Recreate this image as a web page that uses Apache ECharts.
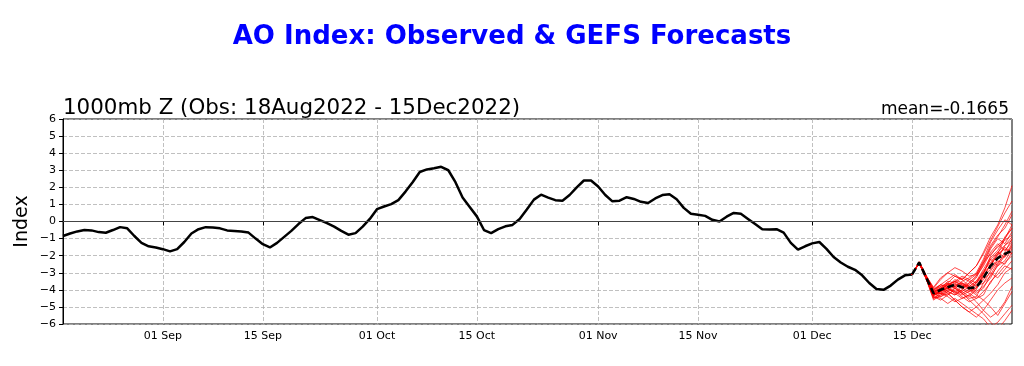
<!DOCTYPE html>
<html>
<head>
<meta charset="utf-8">
<script src="https://cdn.jsdelivr.net/npm/echarts@6/dist/echarts.min.js"></script>
<style>
html,body{margin:0;padding:0;background:#fff;}
#chart{width:1024px;height:366px;}
</style>
</head>
<body>
<div id="chart"></div>
<script>
// ---------- DATA ----------
const startDateUTC = [2022, 7, 18];   // 18 Aug 2022 (first day on the axis)
const dayCount = 134;                  // 18 Aug .. 29 Dec 2022
const monthNames = ['Jan','Feb','Mar','Apr','May','Jun','Jul','Aug','Sep','Oct','Nov','Dec'];

// Observed AO index, daily, 18 Aug .. 15 Dec 2022
const observed = [
  -0.85,-0.70,-0.58,-0.50,-0.52,-0.62,-0.66,-0.50,-0.33,-0.40,
  -0.85,-1.25,-1.45,-1.52,-1.62,-1.75,-1.62,-1.20,-0.70,-0.45,
  -0.33,-0.35,-0.40,-0.52,-0.55,-0.58,-0.65,-1.00,-1.33,-1.52,
  -1.25,-0.90,-0.55,-0.15, 0.20, 0.26, 0.08,-0.10,-0.30,-0.55,
  -0.77,-0.68,-0.30, 0.15, 0.72, 0.88, 1.02, 1.25, 1.75, 2.30,
   2.90, 3.05, 3.12, 3.20, 3.00, 2.30, 1.40, 0.85, 0.30,-0.50,
  -0.68,-0.45,-0.28,-0.20, 0.15, 0.70, 1.28, 1.57, 1.40, 1.25,
   1.22, 1.55, 2.00, 2.40, 2.40, 2.05, 1.55, 1.18, 1.22, 1.42,
   1.32, 1.15, 1.08, 1.35, 1.55, 1.60, 1.30, 0.80, 0.45, 0.40,
   0.33, 0.10, 0.00, 0.28, 0.50, 0.45, 0.15,-0.15,-0.45,-0.47,
  -0.45,-0.65,-1.25,-1.65,-1.45,-1.28,-1.20,-1.60,-2.08,-2.40,
  -2.65,-2.83,-3.15,-3.60,-3.95,-4.00,-3.75,-3.40,-3.15,-3.10
];

// Forecasts start on the last observed day (15 Dec) and run to 29 Dec
const forecastStartIndex = 119;

const ensembleMean = [-3.1,-2.4,-3.3,-4.2,-4.0,-3.85,-3.7,-3.85,-3.9,-3.85,-3.3,-2.6,-2.15,-1.9,-1.7];

const ensembleMembers = [
  [-3.1,-2.35,-3.30,-4.30,-4.1,-3.6,-3.2,-3.4,-3.0,-2.6,-1.8,-0.9,-0.2, 0.8, 2.1],
  [-3.1,-2.45,-3.40,-4.50,-4.4,-4.2,-4.6,-5.0,-5.3,-5.6,-5.2,-4.6,-4.0,-3.6,-3.3],
  [-3.1,-2.40,-3.20,-3.90,-3.4,-3.0,-2.7,-2.9,-3.2,-3.1,-2.4,-1.5,-0.9,-0.2, 0.6],
  [-3.1,-2.40,-3.35,-4.40,-4.5,-4.8,-4.5,-4.8,-5.1,-5.4,-5.7,-6.2,-5.9,-5.4,-4.9],
  [-3.1,-2.38,-3.25,-4.10,-3.9,-3.5,-3.6,-3.9,-3.7,-3.3,-2.5,-1.6,-1.0,-1.3,-0.6],
  [-3.1,-2.42,-3.30,-4.20,-4.2,-4.0,-3.8,-4.1,-4.4,-4.0,-3.0,-2.2,-2.6,-2.0,-1.5],
  [-3.1,-2.40,-3.28,-4.05,-3.7,-3.9,-4.2,-3.8,-3.4,-3.6,-3.1,-2.0,-1.4,-1.0,-0.2],
  [-3.1,-2.44,-3.40,-4.60,-4.3,-4.0,-4.1,-4.4,-4.7,-4.5,-4.1,-3.6,-2.9,-2.4,-2.0],
  [-3.1,-2.37,-3.20,-3.85,-3.3,-3.0,-3.2,-3.4,-3.0,-2.6,-1.9,-1.1,-0.3, 0.5, 1.2],
  [-3.1,-2.41,-3.30,-4.30,-4.2,-4.3,-3.9,-3.6,-3.8,-4.1,-3.8,-3.3,-2.5,-1.8,-1.0],
  [-3.1,-2.43,-3.35,-4.35,-4.0,-3.7,-3.5,-3.7,-4.0,-4.3,-4.6,-4.2,-3.7,-3.0,-2.7],
  [-3.1,-2.39,-3.22,-4.00,-3.8,-4.1,-4.3,-4.0,-3.6,-3.2,-2.4,-1.9,-1.5,-1.1,-0.8],
  [-3.1,-2.40,-3.30,-4.25,-4.4,-4.1,-3.9,-4.2,-4.6,-5.0,-5.4,-5.9,-6.3,-5.8,-5.2],
  [-3.1,-2.42,-3.32,-4.15,-3.9,-3.6,-3.8,-3.5,-3.3,-3.0,-2.2,-1.2,-0.5, 0.1,-0.2],
  [-3.1,-2.40,-3.27,-4.20,-4.1,-3.8,-3.4,-3.6,-3.9,-3.7,-3.2,-2.8,-2.2,-1.4,-0.9],
  [-3.1,-2.45,-3.38,-4.40,-4.6,-4.3,-4.0,-4.2,-4.5,-4.4,-3.6,-2.9,-2.3,-2.5,-1.8],
  [-3.1,-2.36,-3.18,-3.95,-3.7,-3.4,-3.1,-3.4,-3.8,-3.5,-2.8,-2.1,-1.7,-0.9,-0.4],
  [-3.1,-2.41,-3.33,-4.30,-4.0,-3.9,-4.2,-4.5,-4.3,-3.9,-3.4,-3.0,-3.3,-2.8,-2.3],
  [-3.1,-2.43,-3.36,-4.50,-4.2,-3.9,-3.7,-3.6,-3.9,-4.2,-3.9,-3.1,-2.4,-2.0,-1.3],
  [-3.1,-2.38,-3.24,-4.10,-4.0,-3.7,-3.9,-4.2,-4.0,-3.6,-2.9,-2.4,-1.8,-1.4,-1.1],
  [-3.1,-2.40,-3.30,-4.20,-3.9,-4.2,-4.6,-5.0,-5.3,-5.0,-4.6,-5.0,-5.5,-4.8,-4.1],
  [-3.1,-2.42,-3.31,-4.25,-4.1,-3.8,-3.6,-3.3,-3.5,-3.8,-3.3,-2.5,-1.9,-1.6,-1.9],
  [-3.1,-2.39,-3.26,-4.10,-3.8,-3.6,-3.9,-4.1,-3.8,-3.5,-3.0,-2.6,-1.9,-1.0,-0.4],
  [-3.1,-2.44,-3.37,-4.45,-4.3,-4.1,-4.3,-4.0,-4.2,-4.5,-4.3,-3.5,-3.1,-2.6,-2.8],
  [-3.1,-2.40,-3.29,-4.20,-4.0,-3.7,-3.5,-3.8,-3.6,-3.2,-2.6,-1.8,-1.3,-1.7,-1.2],
  [-3.1,-2.41,-3.30,-4.30,-4.2,-4.4,-4.7,-4.5,-4.3,-4.7,-5.2,-5.6,-5.3,-4.7,-3.8],
  [-3.1,-2.37,-3.21,-4.00,-3.7,-3.8,-3.5,-3.2,-3.4,-3.1,-2.3,-1.4,-0.8,-0.4, 0.4],
  [-3.1,-2.43,-3.34,-4.35,-4.1,-3.9,-4.1,-4.3,-4.1,-3.8,-3.6,-3.2,-2.6,-2.3,-1.6],
  [-3.1,-2.40,-3.28,-4.15,-3.9,-3.7,-3.8,-3.7,-3.9,-3.6,-3.0,-2.2,-1.8,-2.1,-1.4],
  [-3.1,-2.42,-3.32,-4.30,-4.1,-3.9,-3.7,-3.9,-4.1,-3.9,-3.2,-2.5,-2.0,-1.5,-1.9]
];

const yTicks = [-6,-5,-4,-3,-2,-1,0,1,2,3,4,5,6];
const titleText = 'AO Index: Observed & GEFS Forecasts';
const subtitleLeft = '1000mb Z (Obs: 18Aug2022 - 15Dec2022)';
const subtitleRight = 'mean=-0.1665';
const yAxisName = 'Index';

// ---------- BUILD ----------
const categories = [];
const dayOfMonth = [];
for (let i = 0; i < dayCount; i++) {
  const d = new Date(Date.UTC(startDateUTC[0], startDateUTC[1], startDateUTC[2] + i));
  const dd = d.getUTCDate();
  dayOfMonth.push(dd);
  categories.push((dd < 10 ? '0' + dd : '' + dd) + ' ' + monthNames[d.getUTCMonth()]);
}
const isLabelDay = (idx) => dayOfMonth[idx] === 1 || dayOfMonth[idx] === 15;

const FONT = 'DejaVu Sans';
const series = [];

series.push({
  type: 'line', name: 'obs', data: observed, symbol: 'none', z: 3,
  lineStyle: { color: '#000', width: 2.5 }, silent: true,
  markLine: {
    silent: true, symbol: 'none', label: { show: false },
    lineStyle: { color: '#444', width: 1, type: 'solid' },
    data: [{ yAxis: 0 }]
  }
});

ensembleMembers.forEach((m, k) => {
  series.push({
    type: 'line', name: 'mem' + k, symbol: 'none', z: 4, silent: true,
    data: m.map((v, i) => [forecastStartIndex + i, v]),
    lineStyle: { color: 'rgba(255,0,0,0.7)', width: 1 }
  });
});

series.push({
  type: 'line', name: 'mean', symbol: 'none', z: 5, silent: true,
  data: ensembleMean.map((v, i) => [forecastStartIndex + i, v]),
  lineStyle: { color: '#000', width: 2.6, type: [7, 3.5] }
});

const chart = echarts.init(document.getElementById('chart'), null, { renderer: 'canvas' });
chart.setOption({
  animation: false,
  backgroundColor: '#fff',
  textStyle: { fontFamily: FONT },
  title: [
    { text: titleText, left: 'center', top: 19,
      textStyle: { fontFamily: FONT, fontSize: 26, fontWeight: 'bold', color: '#0000ff' } },
    { text: subtitleLeft, left: 58, top: 93,
      textStyle: { fontFamily: FONT, fontSize: 21.4, fontWeight: 'normal', color: '#000' } },
    { text: subtitleRight, right: 10, top: 96,
      textStyle: { fontFamily: FONT, fontSize: 17, fontWeight: 'normal', color: '#000' } }
  ],
  grid: { left: 63, right: 12, top: 119, bottom: 42, show: true, borderColor: '#000', borderWidth: 1, backgroundColor: 'transparent' },
  xAxis: {
    type: 'category', data: categories, boundaryGap: false,
    axisLine: { show: true, lineStyle: { color: '#000', width: 1 } },
    axisTick: { show: true, inside: false, length: 4, interval: isLabelDay, lineStyle: { color: '#000' } },
    axisLabel: { interval: isLabelDay, margin: 7, fontFamily: FONT, fontSize: 11, color: '#000' },
    splitLine: { show: true, interval: isLabelDay, lineStyle: { color: '#b0b0b0', type: [4, 2], width: 0.8 } }
  },
  yAxis: {
    type: 'value', min: yTicks[0], max: yTicks[yTicks.length - 1], interval: 1,
    name: yAxisName, nameLocation: 'middle', nameGap: 31, nameMoveOverlap: false,
    nameTextStyle: { fontFamily: FONT, fontSize: 19, color: '#000' },
    axisLine: { show: true, lineStyle: { color: '#000', width: 1 } },
    axisTick: { show: true, length: 4, lineStyle: { color: '#000' } },
    axisLabel: { margin: 7, fontFamily: FONT, fontSize: 11, color: '#000',
      formatter: (v) => (v < 0 ? '\u2212' + Math.abs(v) : '' + v) },
    splitLine: { show: true, lineStyle: { color: '#b0b0b0', type: [4, 2], width: 0.8 } }
  },
  series: series
});
</script>
</body>
</html>
